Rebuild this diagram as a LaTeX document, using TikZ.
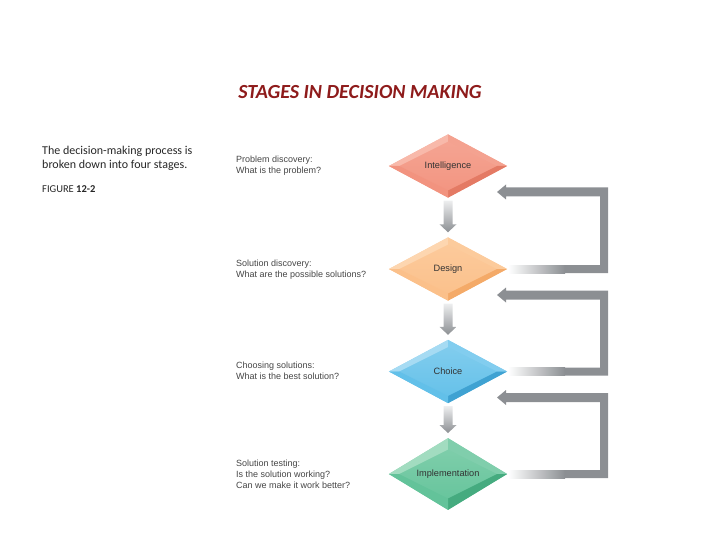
\documentclass[tikz,border=0pt]{standalone}
\usepackage{fontspec}
\setmainfont{Carlito}
\newfontfamily\arialf{Liberation Sans}
\usetikzlibrary{shapes.geometric,calc}
\definecolor{titlered}{HTML}{8E1B1B}
\definecolor{labelgray}{HTML}{454545}
\definecolor{fbgray}{HTML}{8C8F93}
\definecolor{arlight}{HTML}{EDEEEF}
% Intelligence
\definecolor{iface}{HTML}{F2937F}\definecolor{ilight}{HTML}{F8B9AA}\definecolor{idark}{HTML}{E47A64}\definecolor{imid}{HTML}{F4A290}
% Design
\definecolor{dface}{HTML}{FBC08A}\definecolor{dlight}{HTML}{FDD6B0}\definecolor{ddark}{HTML}{F4AA68}\definecolor{dmid}{HTML}{FCCB9C}
% Choice
\definecolor{cface}{HTML}{62C0E9}\definecolor{clight}{HTML}{A6DBF3}\definecolor{cdark}{HTML}{3FA2D2}\definecolor{cmid}{HTML}{82CDEF}
% Implementation
\definecolor{mface}{HTML}{63C39A}\definecolor{mlight}{HTML}{A2DCC0}\definecolor{mdark}{HTML}{45AB7F}\definecolor{mmid}{HTML}{80CEAC}
\tikzset{
  diam/.style={diamond, minimum width=118pt, minimum height=63pt, inner sep=0pt,
    font=\arialf\fontsize{9.2}{11}\selectfont, text=black!80},
  sidelabel/.style={anchor=west, inner sep=0pt, align=left,
    font=\arialf\fontsize{9}{11}\selectfont, text=labelgray},
  downarrow/.style={top color=arlight, bottom color=fbgray},
}
\newcommand\bevdiam[5]{% name, x, y, text, prefix
  \node[diam, top color=#5light!50!#5face, bottom color=#5face] (#1) at (#2,#3) {#4};
  \coordinate (#1iw) at ($(#1.center)+(-49,0)$);
  \coordinate (#1ie) at ($(#1.center)+(49,0)$);
  \coordinate (#1in) at ($(#1.center)+(0,-24.5)$);
  \coordinate (#1is) at ($(#1.center)+(0,24.5)$);
  \fill[#5light] (#1.west) -- (#1.north) -- (#1in) -- (#1iw) -- cycle;
  \fill[#5mid] (#1.north) -- (#1.east) -- (#1ie) -- (#1in) -- cycle;
  \fill[#5dark] (#1.east) -- (#1.south) -- (#1is) -- (#1ie) -- cycle;
  \fill[#5face] (#1.south) -- (#1.west) -- (#1iw) -- (#1is) -- cycle;
}
\newcommand\downarr[2]{%
  \shade[downarrow] ($(#1.south)+(-4.5,3)$) -- ($(#1.south)+(4.5,3)$) -- ($(#2.north)+(4.5,-13)$)
    -- ($(#2.north)+(8.5,-13)$) -- ($(#2.north)+(0,-5)$) -- ($(#2.north)+(-8.5,-13)$)
    -- ($(#2.north)+(-4.5,-13)$) -- cycle;
}
% canvas y grows upward: visual "down" = smaller canvas y
\newcommand\feedback[2]{% lower node, upper node
  \path (#1.east) coordinate (#1fa) (#2.center) coordinate (#2fb);
  \path let \p1=(#1fa), \p2=(#2fb) in
    coordinate (#1b1) at (\x1+1,\y1+4) coordinate (#1b2) at (565,\y1-4)
    coordinate (#1top) at (0,\y2-26);
  \shade[left color=white, right color=fbgray] (#1b1) rectangle (#1b2);
  \path let \p1=(#1fa), \p3=(#1top) in
    [fill=fbgray] (564.5,\y1+4) -- (600,\y1+4) -- (600,\y3-4.5) -- (506,\y3-4.5) -- (506,\y3-7.5)
    -- (497,\y3) -- (506,\y3+7.5) -- (506,\y3+4.5) -- (608,\y3+4.5) -- (608,\y1-4) -- (564.5,\y1-4) -- cycle;
}
\begin{document}
\begin{tikzpicture}[x=1pt,y=-1pt]
\useasboundingbox (0,0) rectangle (720,540);
\node[font=\fontsize{20}{24}\selectfont\bfseries\itshape, text=titlered] (title) at (360,92) {STAGES IN DECISION MAKING};
\node[anchor=west, inner sep=0pt, align=left, font=\fontsize{12}{14}\selectfont, text=black!85] (desc) at (42,158)
  {The decision-making process is\\broken down into four stages.};
\node[anchor=west, inner sep=0pt, font=\fontsize{10.5}{12}\selectfont, text=black!85] (fig) at (42,189) {FIGURE \textbf{12-2}};

\bevdiam{intel}{448}{166}{Intelligence}{i}
\bevdiam{design}{448}{269}{Design}{d}
\bevdiam{choice}{448}{371.5}{Choice}{c}
\bevdiam{impl}{448}{474}{Implementation}{m}

\downarr{intel}{design}
\downarr{design}{choice}
\downarr{choice}{impl}

\feedback{design}{intel}
\feedback{choice}{design}
\feedback{impl}{choice}

\node[sidelabel] (l1) at (236,165.5) {Problem discovery:\\What is the problem?};
\node[sidelabel] (l2) at (236,269.5) {Solution discovery:\\What are the possible solutions?};
\node[sidelabel] (l3) at (236,370.5) {Choosing solutions:\\What is the best solution?};
\node[sidelabel] (l4) at (236,474) {Solution testing:\\Is the solution working?\\Can we make it work better?};
\end{tikzpicture}
\end{document}
